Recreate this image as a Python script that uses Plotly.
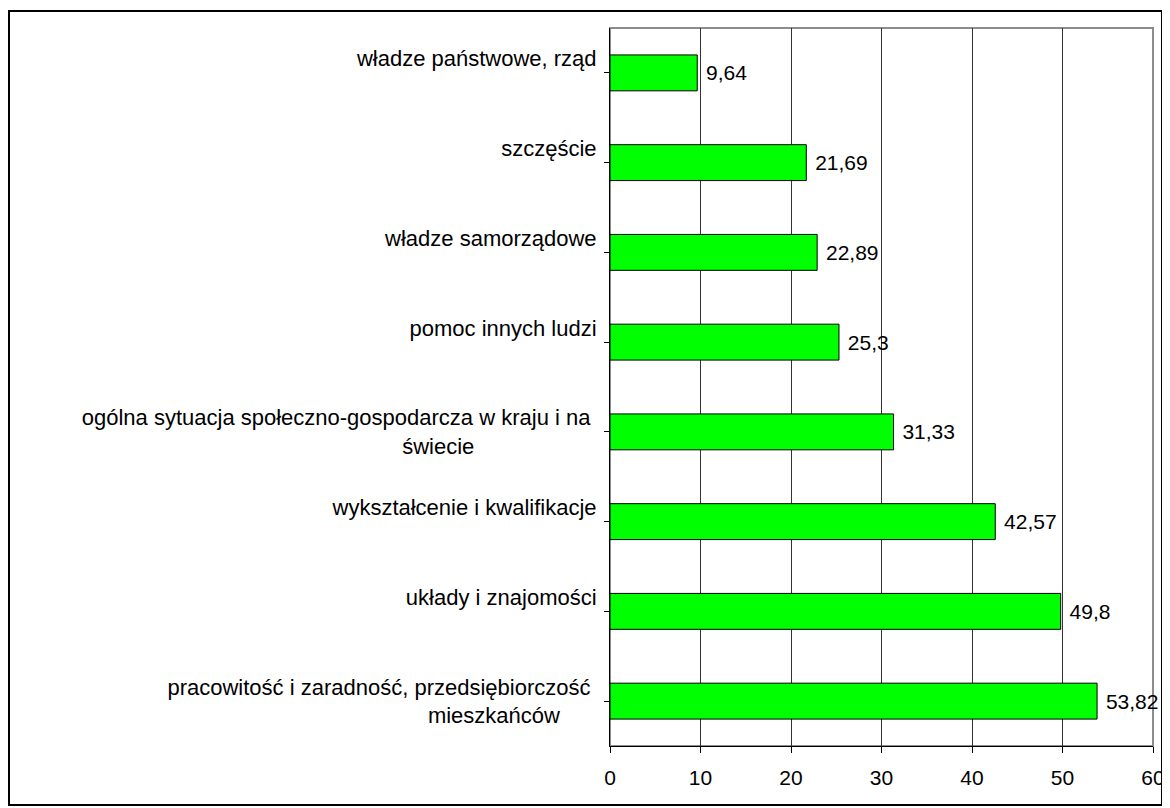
import plotly.graph_objects as go

# Data (top-to-bottom order as in reference)
categories = [
    "władze państwowe, rząd",
    "szczęście",
    "władze samorządowe",
    "pomoc innych ludzi",
    "ogólna sytuacja społeczno-gospodarcza w kraju i na|świecie",
    "wykształcenie i kwalifikacje",
    "układy i znajomości",
    "pracowitość i zaradność, przedsiębiorczość|mieszkańców",
]
values = [9.64, 21.69, 22.89, 25.3, 31.33, 42.57, 49.8, 53.82]
x_ticks = [0, 10, 20, 30, 40, 50, 60]

NB = "\u00a0"
# trailing non-breaking spaces used to mimic the original label wrapping
line1_pad = {4: 1, 7: 1}
line2_pad = {4: 20, 7: 6}


def build_label(i, text):
    parts = text.split("|")
    l1 = parts[0] + NB * line1_pad.get(i, 0)
    if len(parts) > 1:
        l2 = parts[1] + NB * line2_pad.get(i, 0)
    else:
        l2 = NB
    return l1 + "<br>" + l2


tick_text = [build_label(i, c) for i, c in enumerate(categories)]
bar_text = [NB + str(v).replace(".", ",") for v in values]

FONT = "Arial, 'Liberation Sans', sans-serif"

# page has an 8px body margin; figure geometry compensates for it
W, H = 1162, 800
ML, MR, MT, MB = 602, 17, 20, 62
PW = W - ML - MR
PH = H - MT - MB


def px_x(p):
    return (p - ML) / PW


def px_y(p):
    return (H - MB - p) / PH


fig = go.Figure(
    go.Bar(
        x=values,
        y=list(range(len(categories))),
        orientation="h",
        width=0.4,
        marker=dict(color="#00FF00", line=dict(color="black", width=1)),
        text=bar_text,
        textposition="outside",
        textfont=dict(family=FONT, size=21, color="black"),
        constraintext="none",
        cliponaxis=False,
        hoverinfo="skip",
    )
)

fig.update_layout(
    width=W,
    height=H,
    margin=dict(l=ML, r=MR, t=MT, b=MB, autoexpand=False),
    paper_bgcolor="white",
    plot_bgcolor="white",
    showlegend=False,
    font=dict(family=FONT, size=21, color="black"),
    shapes=[
        # plot area border (grey)
        dict(type="rect", xref="paper", yref="paper", x0=0, x1=1, y0=0, y1=1,
             line=dict(color="#8c8c8c", width=2), layer="below"),
        # outer chart frame
        dict(type="rect", xref="paper", yref="paper",
             x0=px_x(1), x1=px_x(1154), y0=px_y(797), y1=px_y(3),
             line=dict(color="black", width=2)),
    ],
)

fig.update_xaxes(
    range=[0, 60],
    tickvals=x_ticks,
    ticktext=[str(t) for t in x_ticks],
    showgrid=True,
    gridcolor="#333333",
    gridwidth=1,
    showline=True,
    linecolor="black",
    linewidth=1,
    ticks="outside",
    ticklen=6,
    tickcolor="black",
    zeroline=False,
    automargin=False,
    ticklabelstandoff=7,
    tickfont=dict(family=FONT, size=21, color="black"),
)

fig.update_yaxes(
    tickmode="array",
    tickvals=list(range(len(categories))),
    ticktext=tick_text,
    range=[len(categories) - 0.5, -0.5],
    showgrid=False,
    showline=True,
    linecolor="black",
    linewidth=1,
    ticks="outside",
    tickson="boundaries",
    ticklen=5,
    tickcolor="black",
    zeroline=False,
    automargin=False,
    ticklabelstandoff=3,
    tickfont=dict(family=FONT, size=22, color="black"),
)

fig.write_html("out.html")
